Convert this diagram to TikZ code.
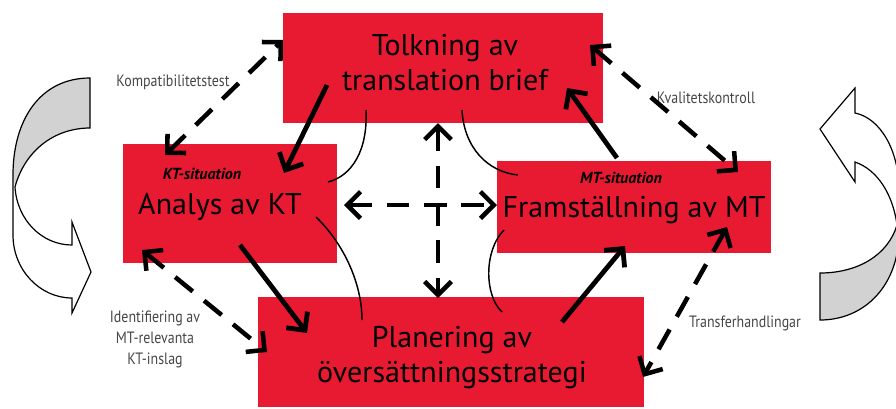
\documentclass[tikz,border=0pt]{standalone}
\usepackage{fontspec}
\setmainfont{PT Sans}
\newfontfamily\condfont[FakeStretch=0.85]{PT Sans}
\usetikzlibrary{arrows.meta}
\definecolor{boxred}{RGB}{232,26,50}
\definecolor{labgray}{RGB}{70,70,70}
\definecolor{arrgray}{RGB}{210,210,210}
\tikzset{
  box/.style={fill=boxred, draw=none, inner sep=0pt},
  bigtxt/.style={font=\fontsize{22.5}{26.25}\selectfont, align=center, inner sep=0pt, anchor=base},
  sitlabel/.style={font=\fontsize{12}{13}\selectfont\bfseries\itshape, inner sep=0pt, anchor=base},
  glabel/.style={font=\condfont\fontsize{12.3}{15.75}\selectfont, text=labgray, align=center, inner sep=0pt},
  solidarrow/.style={line width=3.6pt, -{Straight Barb[length=10pt,width=20pt]}},
  dasharrow/.style={line width=3.4pt, dash pattern=on 17pt off 11pt,
     {Straight Barb[length=10pt,width=20pt]}-{Straight Barb[length=10pt,width=20pt]}},
  link/.style={line width=1.1pt},
  bigarrow/.style={draw=black, line width=0.9pt, line join=miter},
}
\begin{document}
\begin{tikzpicture}[x=0.75pt,y=-0.75pt]
\useasboundingbox (0,0) rectangle (896,408);
\clip (0,0) rectangle (896,408);

% boxes
\node[box, minimum width=240pt, minimum height=82.5pt] (top) at (443,68) {};
\node[box, minimum width=160.5pt, minimum height=89.25pt] (left) at (230,203.5) {};
\node[box, minimum width=205.5pt, minimum height=69pt] (right) at (634,207) {};
\node[box, minimum width=289.5pt, minimum height=82pt] (bottom) at (451,352) {};

% texts (base = baseline of last line)
\node[bigtxt] (toptxt) at (445,90) {Tolkning av\\translation brief};
\node[sitlabel] (ktsit) at (202,179) {KT-situation};
\node[bigtxt] (lefttxt) at (220,214) {Analys av KT};
\node[sitlabel] (mtsit) at (621,183) {MT-situation};
\node[bigtxt] (righttxt) at (634,217) {Framställning av MT};
\node[bigtxt] (bottxt) at (452,382) {Planering av\\översättningsstrategi};

% gray labels
\node[glabel] (komp) at (173,82) {Kompatibilitetstest};
\node[glabel] (kval) at (706,98) {Kvalitetskontroll};
\node[glabel] (trans) at (745,323) {Transferhandlingar};
\node[glabel] (ident) at (155,339) {Identifiering av\\MT-relevanta\\KT-inslag};

% connector end points
\coordinate (a1s) at (165,155); \coordinate (a1e) at (283,40);
\coordinate (a2s) at (327,85);  \coordinate (a2e) at (284,173);
\coordinate (a3s) at (617,158); \coordinate (a3e) at (567,88);
\coordinate (a4s) at (590,45);  \coordinate (a4e) at (738,172);
\coordinate (a5s) at (438,123); \coordinate (a5e) at (438,298);
\coordinate (a6s) at (344,205); \coordinate (a6e) at (497,205);
\coordinate (a7s) at (240,245); \coordinate (a7e) at (307,333);
\coordinate (a8s) at (142,250); \coordinate (a8e) at (267,352);
\coordinate (a9s) at (562,322); \coordinate (a9e) at (625,246);
\coordinate (a10s) at (727,227); \coordinate (a10e) at (643,377);

\draw[dasharrow] (a1s) -- (a1e);
\draw[solidarrow] (a2s) -- (a2e);
\draw[solidarrow] (a3s) -- (a3e);
\draw[dasharrow] (a4s) -- (a4e);
\draw[dasharrow] (a5s) -- (a5e);
\draw[dasharrow] (a6s) -- (a6e);
\draw[solidarrow] (a7s) -- (a7e);
\draw[dasharrow] (a8s) -- (a8e);
\draw[solidarrow] (a9s) -- (a9e);
\draw[dasharrow] (a10s) -- (a10e);

% thin curves
\coordinate (c1s) at (366,110); \coordinate (c1e) at (328,182);
\coordinate (c2s) at (462,110); \coordinate (c2e) at (518,175);
\coordinate (c3s) at (316,217); \coordinate (c3e) at (362,320);
\coordinate (c4s) at (504,230); \coordinate (c4e) at (502,312);
\draw[link] (c1s) .. controls (368,150) and (352,176) .. (c1e);
\draw[link] (c2s) .. controls (464,148) and (488,172) .. (c2e);
\draw[link] (c3s) .. controls (345,245) and (362,285) .. (c3e);
\draw[link] (c4s) .. controls (484,250) and (484,295) .. (c4e);

% left curved block arrow
\fill[arrgray] (90,78) .. controls (40,78) and (13,120) .. (13,175) -- (15,187)
   .. controls (25,150) and (55,128) .. (90,128) -- cycle;
\draw[bigarrow] (90,78) .. controls (40,78) and (13,120) .. (13,175) -- (13,235)
   .. controls (13,270) and (40,298) .. (72,298) -- (72,313) -- (91,272) -- (72,222) -- (72,245)
   .. controls (42,245) and (17,220) .. (15,187)
   .. controls (25,150) and (55,128) .. (90,128) -- cycle;

% right curved block arrow
\fill[arrgray] (820,273) -- (820,320) .. controls (865,320) and (899,285) .. (899,232) -- (897,225)
   .. controls (888,255) and (858,273) .. (820,273) -- cycle;
\draw[bigarrow] (820,273) -- (820,320) .. controls (865,320) and (899,285) .. (899,232) -- (899,190)
   .. controls (899,150) and (880,118) .. (855,113) -- (855,88) -- (820,129) -- (855,182) -- (855,162)
   .. controls (878,170) and (893,195) .. (897,225)
   .. controls (888,255) and (858,273) .. (820,273) -- cycle;
\end{tikzpicture}
\end{document}
